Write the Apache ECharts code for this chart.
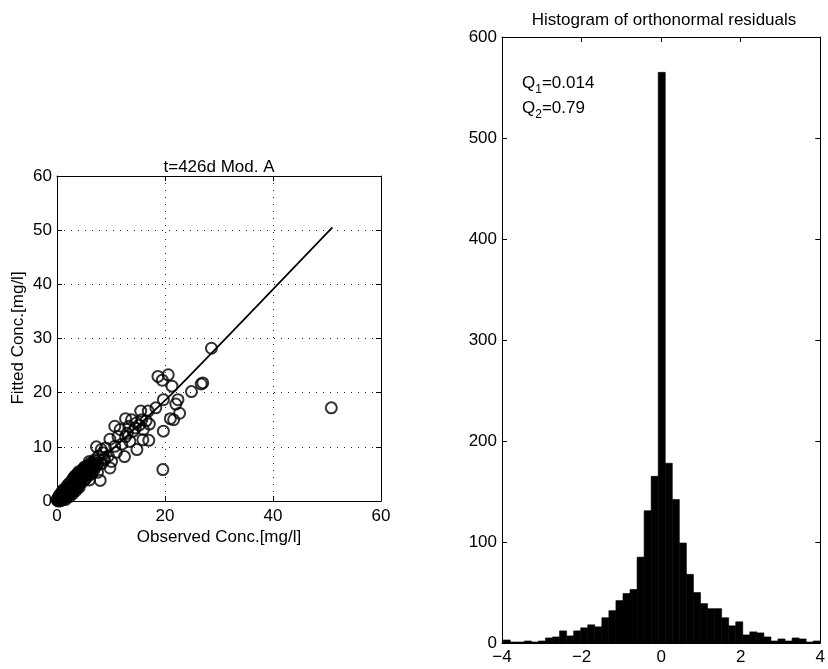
<!DOCTYPE html>
<html>
<head>
<meta charset="utf-8">
<script src="https://cdn.jsdelivr.net/npm/echarts@6/dist/echarts.min.js"></script>
<style>html,body{margin:0;padding:0;background:#fff}#c{width:828px;height:669px}</style>
</head>
<body>
<div id="c"></div>
<script>
// ---- Data: scatter (observed, fitted) ----
const scatterPoints = [
  [28.6,28.2],[50.8,17.2],[19.6,5.8],[18.7,23.0],[19.5,22.3],[20.6,23.3],[21.3,21.2],[24.9,20.2],
  [26.7,21.6],[27.0,21.8],[19.7,18.7],[22.4,18.7],[22.0,17.9],[22.7,16.2],[21.0,15.2],[21.6,15.0],
  [19.7,12.9],[18.3,17.2],[16.9,16.6],[15.5,16.6],[17.1,14.2],[17.0,11.2],[16.0,13.2],[15.7,15.0],
  [14.7,14.4],[13.8,15.0],[12.7,15.2],[13.3,13.8],[14.1,12.9],[14.8,9.5],[15.9,11.3],[12.7,11.9],
  [11.7,13.2],[10.7,13.8],[11.3,11.9],[9.8,11.4],[10.7,10.1],[12.5,8.2],[10.1,7.3],[9.8,6.1],
  [8.5,8.9],[7.3,10.0],[8.2,9.5],[8.8,7.6],[8.0,3.8],[7.0,7.6],[6.0,7.3],[13.0,12.5],[14.5,13.5],
  [12.0,10.5],[11.0,9.0],[9.5,8.3],[15.2,14.0],[16.5,14.8],[13.5,11.0],[9.0,9.8],[7.7,8.3],
  [0.2,0.1],[0.4,0.3],[0.5,0.6],[0.7,0.4],[0.8,0.9],[1.0,0.7],[1.1,1.2],[1.3,0.9],[1.4,1.5],
  [1.6,1.2],[1.7,1.8],[1.9,1.5],[2.0,2.2],[2.2,1.8],[2.3,2.6],[2.5,2.1],[2.6,2.9],[2.8,2.4],
  [2.9,3.3],[3.1,2.7],[3.2,3.6],[3.4,3.0],[3.5,3.9],[3.7,3.3],[3.8,4.2],[4.0,3.6],[4.1,4.6],
  [4.3,3.9],[4.4,5.0],[4.6,4.2],[4.7,5.3],[4.9,4.5],[5.0,5.6],[5.2,4.8],[5.3,5.9],[5.5,5.1],
  [5.6,6.2],[5.8,5.4],[6.0,6.5],[6.2,5.7],[6.4,6.8],[6.6,6.0],[6.8,7.1],[7.0,6.4],[1.5,0.6],
  [2.5,1.4],[3.0,1.8],[3.6,2.4],[4.2,3.1],[5.0,3.8],[1.0,1.8],[2.0,3.0],[3.0,4.2],[4.0,5.4],
  [0.3,0.8],[0.9,0.2],[0.1,0.4],[0.6,0.0],[5.7,4.6],[6.5,5.2],[7.4,6.6],[4.8,5.9],[3.3,4.6],
  [0.5,1.1],[1.2,0.3],[1.8,0.9],[2.1,1.1],[2.7,1.6],[3.3,2.1],[3.9,2.7],[4.5,3.4],[5.3,4.1],
  [6.1,4.9],[6.9,5.8],[7.6,7.0],[7.2,7.4],[6.3,6.3],[5.9,5.9],[5.4,5.4],[4.9,4.9],[4.5,4.5],
  [4.0,4.0],[3.6,3.6],[3.1,3.1],[2.7,2.7],[2.2,2.2],[1.8,1.8],[1.3,1.3],[0.9,0.9],[0.4,0.4],
  [1.2,2.1],[1.7,2.5],[2.4,3.4],[2.9,3.9],[3.5,4.6],[4.2,5.2],[4.9,5.8],[5.5,6.4],[6.2,7.0],
  [0.7,1.4],[0.0,0.2],[0.2,0.0],[1.6,0.3],[2.3,0.8],[2.9,1.3],[3.5,1.9],[4.1,2.5],[6.0,3.9],
  [7.5,5.3],[8.3,6.9],[8.7,8.0],[6.7,6.7],[5.1,6.3],[3.8,5.0]
];
// ---- Data: fitted line ----
const fitLine = [[0,0],[10,9.3],[21.5,20],[51,50.5]];
// ---- Data: histogram of orthonormal residuals ----
const binLo = -3.97;
const binHi = 4.0;
const histCounts = [3,1,1,2,1,2,5,6,12,7,12,15,18,16,25,32,42,49,53,85,131,165,565,
  178,142,99,68,50,39,34,34,25,17,21,8,11,10,6,2,4,2,5,4,1,2];
// ---- Tick / label text ----
const leftTitle = 't=426d Mod. A';
const rightTitle = 'Histogram of orthonormal residuals';
const xName = 'Observed Conc.[mg/l]';
const yName = 'Fitted Conc.[mg/l]';
const q1 = ['Q', '1', '=0.014'];
const q2 = ['Q', '2', '=0.79'];

const FONT = 'Liberation Sans, Arial, Helvetica, sans-serif';
const FS = 17;
const binW = (binHi - binLo) / histCounts.length;
const histData = histCounts.map((c, i) => [binLo + i * binW, binLo + (i + 1) * binW, c]);
const minusFmt = v => String(v).replace('-', '\u2212');

const lineStyle = {color: '#000', width: 1};
const labelStyle = {color: '#000', fontSize: FS, fontFamily: FONT};
function axisBase(extra) {
  return Object.assign({
    type: 'value',
    axisLine: {show: true, onZero: false, lineStyle},
    axisTick: {show: true, inside: true, length: 5, lineStyle},
    splitLine: {show: false}
  }, extra);
}

const chart = echarts.init(document.getElementById('c'), null, {renderer: 'canvas'});
const option = {
  animation: false,
  backgroundColor: '#fff',
  textStyle: {fontFamily: FONT},
  grid: [
    {left: 57, top: 176, width: 324, height: 325, show: false},
    {left: 502, top: 37, width: 324, height: 606, show: false}
  ],
  xAxis: [
    axisBase({gridIndex: 0, position: 'bottom', min: 0, max: 60, interval: 20,
      axisLabel: Object.assign({margin: 7}, labelStyle),
      splitLine: {show: true, lineStyle: {color: '#222', width: 1, type: [1, 6]}}}),
    axisBase({gridIndex: 0, position: 'top', min: 0, max: 60, interval: 20, axisLabel: {show: false}}),
    axisBase({gridIndex: 1, position: 'bottom', min: -4, max: 4, interval: 2,
      axisLabel: Object.assign({margin: 6, formatter: minusFmt}, labelStyle)}),
    axisBase({gridIndex: 1, position: 'top', min: -4, max: 4, interval: 2, axisLabel: {show: false}})
  ],
  yAxis: [
    axisBase({gridIndex: 0, position: 'left', min: 0, max: 60, interval: 10,
      axisLabel: Object.assign({margin: 5}, labelStyle),
      splitLine: {show: true, lineStyle: {color: '#222', width: 1, type: [1, 6]}}}),
    axisBase({gridIndex: 0, position: 'right', min: 0, max: 60, interval: 10, axisLabel: {show: false}}),
    axisBase({gridIndex: 1, position: 'left', min: 0, max: 600, interval: 100,
      axisLabel: Object.assign({margin: 5}, labelStyle)}),
    axisBase({gridIndex: 1, position: 'right', min: 0, max: 600, interval: 100, axisLabel: {show: false}})
  ],
  series: [
    {
      type: 'line', xAxisIndex: 0, yAxisIndex: 0, data: fitLine, smooth: 0.2,
      showSymbol: false, lineStyle: {color: '#000', width: 1.7}, z: 3
    },
    {
      type: 'scatter', xAxisIndex: 0, yAxisIndex: 0, data: scatterPoints,
      symbol: 'circle', symbolSize: 11,
      itemStyle: {color: 'rgba(0,0,0,0)', borderColor: '#000', borderWidth: 2}, z: 4
    },
    {
      type: 'custom', xAxisIndex: 2, yAxisIndex: 2, data: histData,
      encode: {x: [0, 1], y: 2}, clip: true,
      renderItem: function (params, api) {
        const p0 = api.coord([api.value(0), api.value(2)]);
        const p1 = api.coord([api.value(1), 0]);
        return {type: 'rect',
          shape: {x: p0[0], y: p0[1], width: p1[0] - p0[0], height: p1[1] - p0[1]},
          style: {fill: '#000', stroke: '#000', lineWidth: 0.6}};
      }
    }
  ],
  graphic: [
    {type: 'text', x: 219, y: 167, style: {text: leftTitle, fontSize: 17, fontFamily: FONT, fill: '#000', align: 'center', verticalAlign: 'middle'}},
    {type: 'text', x: 664, y: 20, style: {text: rightTitle, fontSize: 17, fontFamily: FONT, fill: '#000', align: 'center', verticalAlign: 'middle'}},
    {type: 'text', x: 219, y: 537, style: {text: xName, fontSize: FS, fontFamily: FONT, fill: '#000', align: 'center', verticalAlign: 'middle'}},
    {type: 'text', x: 18, y: 338, rotation: Math.PI / 2, style: {text: yName, fontSize: FS, fontFamily: FONT, fill: '#000', align: 'center', verticalAlign: 'middle'}},
    {type: 'text', x: 522, y: 71, style: {
      text: '{a|' + q1[0] + '}{s|' + q1[1] + '}{a|' + q1[2] + '}\n{a|' + q2[0] + '}{s|' + q2[1] + '}{a|' + q2[2] + '}',
      fill: '#000', align: 'left', verticalAlign: 'top',
      rich: {
        a: {fontSize: 17, fontFamily: FONT, fill: '#000', lineHeight: 25, verticalAlign: 'middle'},
        s: {fontSize: 12, fontFamily: FONT, fill: '#000', lineHeight: 12, verticalAlign: 'bottom'}
      }
    }}
  ]
};
chart.setOption(option);
</script>
</body>
</html>
